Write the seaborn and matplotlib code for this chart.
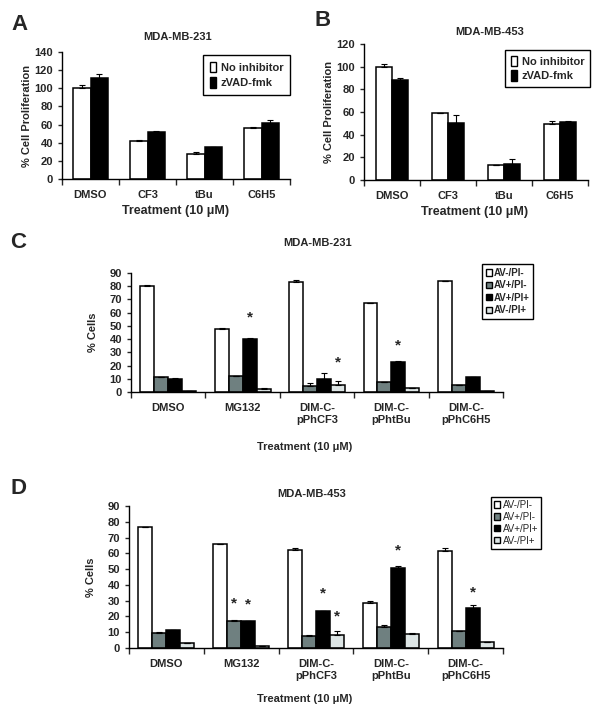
import numpy as np
import pandas as pd
import matplotlib
matplotlib.use('Agg')
import matplotlib.pyplot as plt
from matplotlib.patches import Patch
import seaborn as sns

sns.set_style('ticks')
plt.rcParams['font.family'] = ['Liberation Sans', 'DejaVu Sans']
plt.rcParams['font.weight'] = 'bold'

# panels A/B - proliferation
prolif_treat = ['DMSO', 'CF3', 'tBu', 'C6H5']
inhib_groups = ['No inhibitor', 'zVAD-fmk']
a_noinh = [100, 42, 28, 56]
a_noinh_err = [4, 1.5, 1.5, 1]
a_zvad = [111, 52, 35, 62]
a_zvad_err = [5, 0.5, 0.5, 3]
b_noinh = [100, 59, 13, 49]
b_noinh_err = [2, 0.5, 0.5, 3]
b_zvad = [88, 50, 14.5, 51]
b_zvad_err = [2, 7, 4, 1]

# panels C/D - annexin V / PI
apop_treat = ['DMSO', 'MG132', 'DIM-C-\npPhCF3', 'DIM-C-\npPhtBu', 'DIM-C-\npPhC6H5']
apop_groups = ['AV-/PI-', 'AV+/PI-', 'AV+/PI+', 'AV-/PI+']
c_vals = [[80, 48, 83, 67.3, 84],
          [11, 12, 4.5, 7.6, 5.3],
          [10, 40.3, 9.6, 22.7, 11.3],
          [0.8, 2.5, 5, 3, 0.5]]
c_errs = [[1, 0.3, 1.5, 0.3, 0.2],
          [0.2, 0.2, 2, 0.2, 0.2],
          [0.8, 0.5, 4.5, 0.5, 0.3],
          [0, 0.2, 3.5, 0.2, 0]]
d_vals = [[77, 65.8, 62, 28.5, 61.5],
          [9.5, 17.2, 7.5, 13.3, 10.5],
          [11.5, 17, 23.5, 51, 25.5],
          [3, 1, 8.3, 9, 3.5]]
d_errs = [[0, 0, 1.5, 1.5, 2],
          [0.5, 0.3, 0.7, 1, 0],
          [0, 0.3, 0, 1, 1.5],
          [0, 0, 2.5, 0.5, 0]]
# significance stars: (treatment index, group index, y)
c_stars = [(1, 2, 56), (2, 3, 22), (3, 2, 35.5)]
d_stars = [(1, 1, 28), (1, 2, 27.5), (2, 2, 34.3), (2, 3, 20), (3, 2, 62), (4, 2, 35)]

prolif_colors = ['white', 'black']
apop_colors = ['white', '#6f8080', 'black', '#dde5e5']

W, H = 600, 716
fig = plt.figure(figsize=(6, 7.16), dpi=100)


def box(l, t, r, b):
    return [l / W, 1 - b / H, (r - l) / W, (b - t) / H]


def grouped(ax, cats, groups, vals, errs, colors, width, ymax, ystep, tick_fs):
    rows = []
    for g, vs in zip(groups, vals):
        for c, v in zip(cats, vs):
            rows.append({'treatment': c, 'group': g, 'value': v})
    df = pd.DataFrame(rows)
    sns.barplot(data=df, x='treatment', y='value', hue='group', palette=colors,
                saturation=1, edgecolor='black', linewidth=1.1, width=width,
                errorbar=None, legend=False, ax=ax)
    for cont, e in zip(ax.containers, errs):
        xs = [b.get_x() + b.get_width() / 2 for b in cont]
        ys = [b.get_height() for b in cont]
        ax.errorbar(xs, ys, yerr=[np.zeros(len(e)), e], fmt='none',
                    ecolor='black', elinewidth=0.8, capsize=2, capthick=0.8)
    n = len(cats)
    ax.set_xlim(-0.5, n - 0.5)
    ax.set_ylim(0, ymax)
    ax.set_yticks(np.arange(0, ymax + 1, ystep))
    ax.set_xticks(np.arange(n))
    ax.set_xticks(np.arange(n + 1) - 0.5, minor=True)
    ax.tick_params(axis='x', which='major', length=0, pad=8, labelsize=tick_fs)
    ax.tick_params(axis='x', which='minor', length=4, width=1, direction='out')
    ax.tick_params(axis='y', length=3, width=1, labelsize=tick_fs)
    ax.set_xlabel('')
    ax.set_ylabel('')
    sns.despine(ax=ax)
    for s in ['left', 'bottom']:
        ax.spines[s].set_color('black')
        ax.spines[s].set_linewidth(1)


def stars(ax, star_list):
    for ti, gi, y in star_list:
        b = ax.containers[gi][ti]
        ax.text(b.get_x() + b.get_width() / 2, y, '*', ha='center', va='center',
                fontsize=11, fontweight='bold')


# Panel A
axA = fig.add_axes(box(62, 52, 290, 179))
grouped(axA, prolif_treat, inhib_groups, [a_noinh, a_zvad], [a_noinh_err, a_zvad_err],
        prolif_colors, 0.6, 140, 20, 8)
axA.set_ylabel('% Cell Proliferation', fontsize=8, fontweight='bold', labelpad=2)
fig.text(178 / W, 1 - 37 / H, 'MDA-MB-231', ha='center', va='center', fontsize=8)
fig.text(176 / W, 1 - 211 / H, 'Treatment (10 μM)', ha='center', va='center', fontsize=9)
fig.text(20 / W, 1 - 24 / H, 'A', ha='center', va='center', fontsize=16)
fig.legend(handles=[Patch(facecolor=c, edgecolor='black', label=g)
                    for c, g in zip(prolif_colors, inhib_groups)],
           loc='upper right', bbox_to_anchor=(290 / W, 1 - 55 / H), borderaxespad=0,
           fontsize=8, fancybox=False, edgecolor='black', framealpha=1,
           handlelength=0.6, handleheight=1.1, handletextpad=0.4, labelspacing=0.4,
           borderpad=0.6).get_frame().set_linewidth(1)

# Panel B
axB = fig.add_axes(box(364, 44, 588, 180))
grouped(axB, prolif_treat, inhib_groups, [b_noinh, b_zvad], [b_noinh_err, b_zvad_err],
        prolif_colors, 0.58, 120, 20, 8)
axB.set_ylabel('% Cell Proliferation', fontsize=8, fontweight='bold', labelpad=2)
fig.text(490 / W, 1 - 32 / H, 'MDA-MB-453', ha='center', va='center', fontsize=8)
fig.text(475 / W, 1 - 212 / H, 'Treatment (10 μM)', ha='center', va='center', fontsize=9)
fig.text(323 / W, 1 - 20 / H, 'B', ha='center', va='center', fontsize=16)
fig.legend(handles=[Patch(facecolor=c, edgecolor='black', label=g)
                    for c, g in zip(prolif_colors, inhib_groups)],
           loc='upper right', bbox_to_anchor=(590 / W, 1 - 50 / H), borderaxespad=0,
           fontsize=8, fancybox=False, edgecolor='black', framealpha=1,
           handlelength=0.6, handleheight=1.1, handletextpad=0.4, labelspacing=0.3,
           borderpad=0.5).get_frame().set_linewidth(1)

# Panel C
axC = fig.add_axes(box(131, 273, 503, 392))
grouped(axC, apop_treat, apop_groups, c_vals, c_errs, apop_colors, 0.75, 90, 10, 8)
stars(axC, c_stars)
axC.set_ylabel('% Cells', fontsize=8, fontweight='bold', labelpad=8)
fig.text(318 / W, 1 - 243 / H, 'MDA-MB-231', ha='center', va='center', fontsize=8)
fig.text(305 / W, 1 - 447 / H, 'Treatment (10 μM)', ha='center', va='center', fontsize=8)
fig.text(18 / W, 1 - 243 / H, 'C', ha='center', va='center', fontsize=16)
fig.legend(handles=[Patch(facecolor=c, edgecolor='black', label=g)
                    for c, g in zip(apop_colors, apop_groups)],
           loc='upper left', bbox_to_anchor=(482 / W, 1 - 264 / H), borderaxespad=0,
           fontsize=7, fancybox=False, edgecolor='black', framealpha=1,
           handlelength=0.6, handleheight=0.6, handletextpad=0.2, labelspacing=0.25,
           borderpad=0.4).get_frame().set_linewidth(1)

# Panel D
axD = fig.add_axes(box(129, 506, 503, 648))
grouped(axD, apop_treat, apop_groups, d_vals, d_errs, apop_colors, 0.75, 90, 10, 8)
stars(axD, d_stars)
axD.set_ylabel('% Cells', fontsize=8, fontweight='bold', labelpad=8)
fig.text(312 / W, 1 - 494 / H, 'MDA-MB-453', ha='center', va='center', fontsize=8)
fig.text(305 / W, 1 - 699 / H, 'Treatment (10 μM)', ha='center', va='center', fontsize=8)
fig.text(18 / W, 1 - 489 / H, 'D', ha='center', va='center', fontsize=16)
fig.legend(handles=[Patch(facecolor=c, edgecolor='black', label=g)
                    for c, g in zip(apop_colors, apop_groups)],
           loc='upper left', bbox_to_anchor=(491 / W, 1 - 497 / H), borderaxespad=0,
           prop={'size': 7, 'weight': 'normal'}, fancybox=False, edgecolor='black',
           framealpha=1, handlelength=0.6, handleheight=0.6, handletextpad=0.3,
           labelspacing=0.2, borderpad=0.3).get_frame().set_linewidth(1)

fig.savefig('out.png', dpi=100)
